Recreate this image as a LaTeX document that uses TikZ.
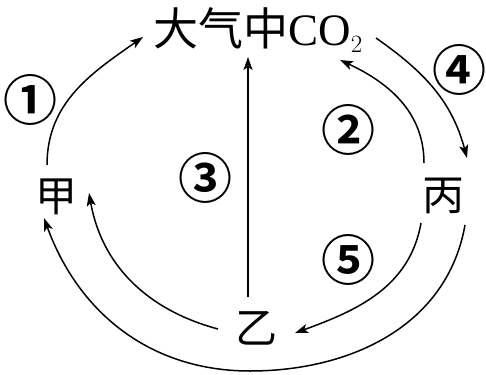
\documentclass[tikz,border=0pt]{standalone}
\usepackage{fontspec}
\setmainfont{Liberation Serif}
\newfontfamily\cjk{Noto Sans CJK SC}
\newfontfamily\cjkb{Noto Sans CJK SC Bold}
\usetikzlibrary{arrows.meta}
\tikzset{
  conn/.style={line width=1.5pt,-{Stealth[length=13pt,width=9pt,inset=3pt]}},
  lbl/.style={inner sep=0pt,font=\cjkb\fontsize{54}{54}\selectfont},
  cn/.style={inner sep=0pt,font=\cjk\fontsize{42}{42}\selectfont}
}
\begin{document}
\begin{tikzpicture}[x=1pt,y=-1pt]
\useasboundingbox (0,0) rectangle (486,374);
\node[inner sep=0pt,font=\fontsize{45}{45}\selectfont] (co2) at (258,30) {{\cjk 大气中}CO$_{\fontsize{24}{24}\selectfont 2}$};
\node[cn] (jia) at (56,197) {甲};
\node[cn] (bing) at (443,196) {丙};
\node[cn] (yi) at (256,328) {乙};
\coordinate (bottom) at (250,371);
\node[lbl] (l1) at (31,100) {①};
\node[lbl] (l2) at (348,130) {②};
\node[lbl] (l3) at (205,178) {③};
\node[lbl] (l4) at (459,70) {④};
\node[lbl] (l5) at (348,260) {⑤};
% 1
\draw[conn] ([xshift=-9pt,yshift=32pt]jia.center) to[out=90,in=215] ([xshift=-115pt,yshift=-7pt]co2.center);
% 3
\draw[conn] ([xshift=-8pt,yshift=31pt]yi.center) -- ([xshift=-10pt,yshift=-27pt]co2.center);
% 2
\draw[conn] ([xshift=-19pt,yshift=33pt]bing.center) to[out=90,in=-25] ([xshift=82pt,yshift=-30pt]co2.center);
% 4
\draw[conn] ([xshift=118pt,yshift=-8pt]co2.center) to[out=-35,in=105] ([xshift=24pt,yshift=38pt]bing.center);
% 5
\draw[conn] ([xshift=-22pt,yshift=-27pt]bing.center) to[out=-100,in=20] ([xshift=39pt,yshift=-5pt]yi.center);
% yi -> jia
\draw[conn] ([xshift=-38pt,yshift=-1pt]yi.center) to[out=165,in=-80] ([xshift=33pt,yshift=4pt]jia.center);
% bing -> jia
\draw[conn] ([xshift=22pt,yshift=-29pt]bing.center) to[out=-100,in=0] (bottom) to[out=180,in=-70] ([xshift=-12pt,yshift=-21pt]jia.center);
\end{tikzpicture}
\end{document}
